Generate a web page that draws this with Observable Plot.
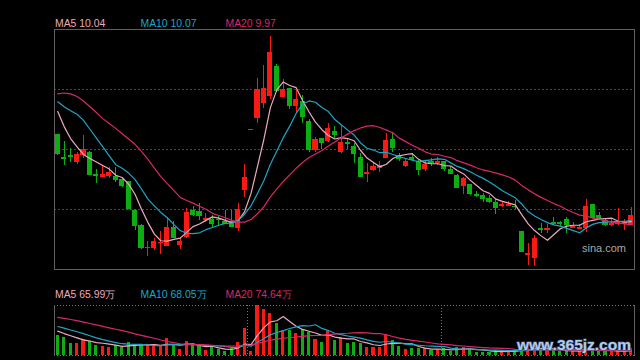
<!DOCTYPE html>
<html><head><meta charset="utf-8">
<script src="https://cdn.jsdelivr.net/npm/d3@7"></script>
<script src="https://cdn.jsdelivr.net/npm/@observablehq/plot@0.6"></script>
<style>
html,body{margin:0;padding:0;background:#000;}
#wrap{position:relative;width:640px;height:360px;background:#000;overflow:hidden;font-family:"Liberation Sans",Arial,sans-serif;}
#wrap svg{position:absolute;left:0;}
.lbl{position:absolute;font-size:10.4px;white-space:nowrap;line-height:1;}
</style></head><body><div id="wrap"></div>
<script>
// ---- price data (daily candles) ----
const open = [12.01,11.50,11.54,11.39,11.55,11.60,11.11,11.07,11.09,11.07, 10.99,10.95,10.29,9.96,9.45,9.46,9.56,9.50,9.90,9.53, 9.71,10.30,10.27,10.10,10.09,10.10,10.05,10.05,9.92,10.76, 12.13,12.40,12.74,12.89,13.55,12.88,13.05,12.66,12.75,12.30, 11.67,11.91,11.88,12.08,11.63,11.84,11.74,11.50,11.12,11.22, 11.26,11.50,11.89,11.54,11.31,11.50,11.39,11.24,11.39,11.37, 11.40,11.22,11.09,10.86,10.88,10.66,10.63,10.57,10.48,10.41, 10.41,10.39,9.82,9.30,9.24,9.89,9.86,10.02,10.02,10.09, 9.91,9.89,9.91,10.43,10.19,10.07,9.98,10.01,10.01,9.97];
const high = [12.02,11.85,11.70,11.60,11.99,11.63,11.21,11.31,11.27,11.27, 11.03,10.95,10.31,9.98,9.60,9.65,9.83,10.14,10.05,9.68, 10.33,10.38,10.45,10.22,10.17,10.18,10.29,10.29,10.45,11.33, 12.13,13.27,13.57,14.23,13.59,13.25,13.05,13.00,12.89,12.35, 11.95,11.91,12.26,12.20,12.19,11.91,11.80,11.58,11.35,11.36, 11.39,12.04,12.04,11.58,11.47,11.59,11.42,11.39,11.46,11.50, 11.40,11.29,11.11,11.03,10.88,10.73,10.68,10.63,10.54,10.50, 10.50,10.52,9.82,9.54,9.73,9.99,9.98,10.13,10.05,10.14, 10.02,9.98,10.54,10.44,10.24,10.11,10.09,10.35,10.08,10.36];
const low = [11.54,11.31,11.38,11.33,11.46,11.09,10.91,11.03,11.02,10.93, 10.81,10.33,9.84,9.41,9.25,9.39,9.30,9.50,9.67,9.42, 9.65,10.15,10.07,10.03,9.90,9.96,9.98,9.92,9.83,10.58, 12.13,12.27,12.59,12.80,12.96,12.88,12.57,12.50,12.26,11.61, 11.61,11.67,11.84,11.90,11.58,11.67,11.35,11.05,10.93,11.18, 11.16,11.46,11.61,11.39,11.27,11.42,11.09,11.18,11.29,11.31, 11.18,11.11,10.81,10.66,10.64,10.59,10.48,10.45,10.20,10.37, 10.38,10.31,9.35,9.05,9.03,9.77,9.78,9.96,9.92,9.78, 9.88,9.86,9.80,10.13,10.08,9.93,9.93,9.96,9.84,9.96];
const close = [11.59,11.48,11.51,11.56,11.67,11.11,11.09,11.11,11.16,10.99, 10.86,10.35,9.96,9.45,9.46,9.59,9.58,9.90,9.69,9.60, 10.25,10.21,10.18,10.11,10.01,10.08,9.99,9.93,10.31,11.03, 12.13,13.03,13.06,13.86,13.01,13.02,12.66,12.81,12.41,11.68, 11.90,11.82,12.14,12.01,11.82,11.80,11.58,11.06,11.16,11.29, 11.31,11.88,11.71,11.48,11.41,11.44,11.21,11.33,11.38,11.40, 11.24,11.14,10.82,11.01,10.68,10.64,10.56,10.50,10.37,10.43, 10.44,10.38,9.37,9.33,9.67,9.86,9.89,9.99,10.00,9.97, 9.94,9.92,10.38,10.14,10.12,9.97,10.01,10.03,10.03,10.18];

// moving-average lines as drawn on the chart
const ma5 = [12.53,12.19,11.92,11.73,11.56,11.47,11.39,11.31,11.23,11.09, 11.04,10.89,10.66,10.32,10.02,9.76,9.61,9.60,9.64,9.67, 9.80,9.93,9.99,10.07,10.15,10.12,10.07,10.02,10.06,10.27, 10.68,11.29,11.91,12.62,13.02,13.20,13.12,13.07,12.78,12.52, 12.29,12.12,11.99,11.91,11.94,11.92,11.87,11.65,11.48,11.38, 11.28,11.34,11.47,11.53,11.56,11.58,11.45,11.37,11.35,11.35, 11.31,11.30,11.20,11.12,10.98,10.86,10.74,10.68,10.55,10.50, 10.46,10.42,10.20,9.99,9.84,9.72,9.62,9.75,9.88,9.94, 9.96,9.96,10.04,10.07,10.10,10.11,10.12,10.05,10.03,10.04];
const ma10 = [12.75,12.64,12.55,12.47,12.33,12.13,11.93,11.73,11.53,11.33, 11.25,11.14,10.99,10.78,10.55,10.40,10.25,10.13,9.98,9.84, 9.78,9.77,9.79,9.86,9.91,9.96,10.00,10.01,10.07,10.21, 10.40,10.68,10.97,11.34,11.64,11.94,12.20,12.49,12.70,12.77, 12.74,12.62,12.53,12.35,12.23,12.11,12.00,11.82,11.70,11.66, 11.60,11.61,11.56,11.51,11.47,11.43,11.40,11.42,11.44,11.46, 11.45,11.37,11.29,11.24,11.17,11.09,11.02,10.94,10.84,10.74, 10.66,10.58,10.44,10.27,10.17,10.09,10.02,9.97,9.94,9.89, 9.84,9.79,9.90,9.98,10.02,10.03,10.04,10.05,10.05,10.07];
const ma20 = [12.93,12.95,12.93,12.87,12.77,12.64,12.51,12.37,12.26,12.15, 12.03,11.91,11.79,11.63,11.45,11.25,11.06,10.90,10.75,10.59, 10.52,10.46,10.39,10.32,10.23,10.18,10.13,10.07,10.03,10.03, 10.09,10.22,10.38,10.60,10.78,10.95,11.10,11.25,11.38,11.49, 11.57,11.65,11.75,11.84,11.94,12.02,12.10,12.16,12.20,12.21, 12.17,12.11,12.05,11.93,11.85,11.77,11.70,11.62,11.57,11.56, 11.52,11.49,11.42,11.37,11.32,11.26,11.21,11.18,11.14,11.10, 11.05,10.98,10.86,10.76,10.67,10.59,10.52,10.45,10.39,10.31, 10.25,10.19,10.17,10.12,10.10,10.06,10.03,10.01,9.99,9.97];

// ---- volume data (万股) ----
const volume = [278,246,171,171,218,199,139,125,115,139, 115,181,153,153,139,125,129,236,153,83, 195,139,125,70,115,83,56,93,181,371, 56,695,635,580,449,348,348,310,357,324, 227,185,338,209,246,171,185,163,115,115, 115,292,209,129,83,101,101,93,70,79, 93,60,115,107,83,46,46,46,70,56, 60,46,115,111,139,79,70,70,56,70, 56,56,115,70,56,56,56,70,56,93];
const volMa5 = [338,305,275,245,216.8,201,179.6,170.4,159.2,143.4, 126.6,135,140.6,148.2,148.2,150.2,139.8,156.4,156.4,145.2, 159.2,161.2,139,122.4,128.8,106.4,89.8,83.4,105.6,156.8, 151.4,279.2,387.6,467.4,483,541.4,472,407,362.4,337.4, 313.2,280.6,286.2,256.6,241,229.8,229.8,194.8,176,149.8, 138.6,160,169.2,172,165.6,162.8,124.6,101.4,89.6,88.8, 87.2,79,83.4,90.8,91.6,82.2,79.4,65.6,58.2,52.8, 55.6,55.6,69.4,77.6,94.2,98,102.8,93.8,82.8,69, 64.4,61.6,70.6,73.4,70.6,70.6,70.6,61.6,58.8,65.99];
const volMa10 = [403,380,355,330,305,275,245,220,200,180.1, 163.8,157.3,155.5,153.7,145.8,138.4,137.4,148.5,152.3,146.7, 154.7,150.5,147.7,139.4,137,132.8,125.5,111.2,114,142.8, 128.9,184.5,235.5,286.5,319.9,346.4,375.6,397.3,414.9,410.2, 427.3,376.3,346.6,309.5,289.2,271.5,255.2,240.5,216.3,195.4, 184.2,194.9,182,174,157.7,150.7,142.3,135.3,130.8,127.2, 125,101.8,92.4,90.2,90.2,84.7,79.2,74.5,74.5,72.2, 68.9,67.5,67.5,67.9,73.5,76.8,79.2,81.6,80.2,81.6, 81.2,82.2,82.2,78.1,69.8,67.5,66.1,66.1,66.1,68.05];
const volMa20 = [530,515,500,485,465,445,425,405,385,365, 345,325,300,280,260,240,215,195,178,163.4, 159.3,153.9,151.6,146.6,141.4,135.6,131.5,129.9,133.2,144.8, 141.8,167.5,191.6,213,228.5,239.6,250.6,254.3,264.5,276.5, 278.1,280.4,291.1,298,304.6,309,315.4,318.9,315.6,302.8, 305.8,285.6,264.3,241.8,223.5,211.1,198.8,187.9,173.6,161.3, 154.6,148.4,137.2,132.1,124,117.7,110.8,104.9,102.7,99.7, 97,84.7,80,79.1,81.9,80.8,79.2,78.1,77.4,76.9, 75.1,74.9,74.9,73,71.7,72.2,72.7,73.9,73.2,74.64];
const periodStarts = [30, 60];

const maNames = ["MA5", "MA10", "MA20"];
const maColors = ["#eeaabd", "#1ea6c6", "#d8286a"];
const RED = "#fa1a14", GREEN = "#0cae12";

const idx = d3.range(open.length);
const candles = idx.map(i => ({i, o: open[i], h: high[i], l: low[i], c: close[i], col: close[i] >= open[i] ? RED : GREEN}));
const xOpts = {type: "band", domain: idx, paddingInner: 0.22, paddingOuter: 0.11, axis: null};
const yDomain = [8.96, 14.385];
const grid = [1, 2, 3].map(k => yDomain[0] + (yDomain[1] - yDomain[0]) * k / 4);
const crisp = {shapeRendering: "crispEdges"};

const price = Plot.plot({
  width: 640, height: 290, marginTop: 29, marginBottom: 21, marginLeft: 54, marginRight: 6,
  style: {background: "none", overflow: "visible"},
  x: xOpts,
  y: {domain: yDomain, axis: null},
  color: {type: "identity"},
  marks: [
    Plot.ruleY(grid, {stroke: "#4a4a4a", strokeDasharray: "2,2", ...crisp}),
    Plot.ruleX(candles, {x: "i", y1: "l", y2: "h", stroke: "col", ...crisp}),
    Plot.barY(candles, {x: "i", y1: "o", y2: "c", fill: "col", ...crisp}),
    Plot.tickY(candles, {x: "i", y: "c", stroke: "col", ...crisp}),
    Plot.tickY(candles, {x: "i", y: "o", stroke: "col", ...crisp}),
    ...[ma5, ma10, ma20].map((m, k) => Plot.line(idx, {x: d => d, y: d => m[d], stroke: maColors[k], strokeWidth: 1.2})),
    Plot.frame({stroke: "#606060", ...crisp})
  ]
});
price.style.top = "0px";

const vols = idx.map(i => ({i, v: volume[i], col: candles[i].col}));
const vmax = d3.max(volume);
const volPlot = Plot.plot({
  width: 640, height: 70, marginTop: 15, marginBottom: 5, marginLeft: 54, marginRight: 6,
  style: {background: "none", overflow: "visible"},
  x: xOpts,
  y: {domain: [0, vmax], axis: null},
  color: {type: "identity"},
  marks: [
    Plot.barY(vols, {x: "i", y: "v", fill: "col", insetLeft: 1, insetRight: 1, ...crisp}),
    ...[volMa5, volMa10, volMa20].map((m, k) => Plot.line(idx, {x: d => d, y: d => m[d], stroke: maColors[k], strokeWidth: 1.2})),
    Plot.ruleX(periodStarts, {x: d => d, dx: -3.2, stroke: "#777", strokeDasharray: "1,2", ...crisp}),
    Plot.ruleY([0, vmax], {stroke: "#777", strokeDasharray: "1,2", ...crisp}),
    Plot.frame({anchor: "left", stroke: "#606060", ...crisp}),
    Plot.frame({anchor: "right", stroke: "#606060", ...crisp})
  ]
});
volPlot.style.top = "290px";

const wrap = document.getElementById("wrap");
wrap.appendChild(price);
wrap.appendChild(volPlot);

function label(text, left, top, color, extra) {
  const d = document.createElement("div");
  d.className = "lbl";
  d.textContent = text;
  d.style.left = left + "px";
  d.style.top = top + "px";
  d.style.color = color;
  if (extra) Object.assign(d.style, extra);
  wrap.appendChild(d);
}
const priceMas = [ma5, ma10, ma20], volMas = [volMa5, volMa10, volMa20];
const lblX = [55, 140.5, 225.5];
maNames.forEach((n, k) => {
  label(`${n} ${priceMas[k].at(-1).toFixed(2)}`, lblX[k], 18.6, maColors[k]);
  label(`${n} ${volMas[k].at(-1).toFixed(2)}万`, lblX[k], 290.3, maColors[k]);
});
label("sina.com", 582, 243, "#a8a8a8", {fontSize: "11px"});
label("www.365jz.com", 517, 337, "#b9c9e4", {fontSize: "15.5px", fontWeight: "bold", WebkitTextStroke: "1.2px #2d4f8c", paintOrder: "stroke fill", letterSpacing: "0px"});
</script></body></html>
